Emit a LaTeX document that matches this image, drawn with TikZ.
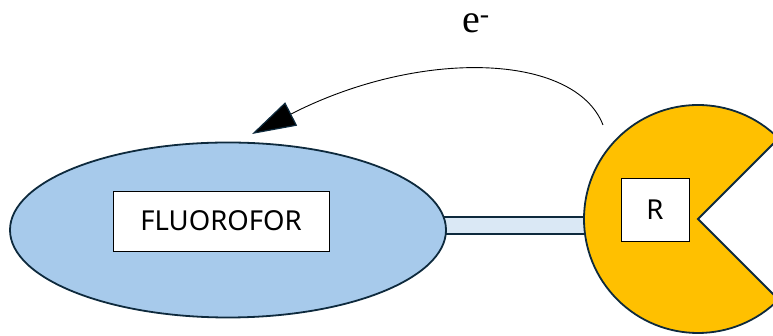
\documentclass[tikz,border=0pt]{standalone}
\usepackage{fontspec}
\usetikzlibrary{shapes.geometric,arrows.meta}
\newfontfamily\lblfont{Noto Sans}
\newfontfamily\elfont{Liberation Serif}
\definecolor{edge}{HTML}{0E2A3D}
\definecolor{fluofill}{HTML}{A7CAEB}
\definecolor{bridgefill}{HTML}{DAE8F5}
\definecolor{pacfill}{HTML}{FFC000}
\tikzset{
  outline/.style={draw=edge, line width=1.8pt},
  labelbox/.style={draw=black, fill=white, line width=0.9pt, inner sep=0pt, font=\lblfont\fontsize{27.5}{32}\selectfont},
}
\begin{document}
\begin{tikzpicture}[x=1pt,y=1pt]
\useasboundingbox (0,0) rectangle (773,336);
\clip (0,0) rectangle (773,336);
% bridge
\draw[outline, fill=bridgefill] (420,119) rectangle (600,102);
% fluorophore
\node[ellipse, outline, fill=fluofill, minimum width=436pt, minimum height=175pt, inner sep=0pt] (fluo) at (228,106) {};
\node[labelbox, minimum width=216pt, minimum height=60pt] (flabel) at (221,115) {FLUOROFOR};
% receptor (pac-man)
\coordinate (pac) at (698,117);
\draw[outline, fill=pacfill] (pac) -- ++(45:114) arc (45:315:114) -- cycle;
\node[labelbox, minimum width=68pt, minimum height=63pt] (rlabel) at (655,126.5) {R};
% electron transfer arrow
\coordinate (astart) at (603,211);
\coordinate (aend) at (252,202);
\draw[black, line width=0.9pt, -{Triangle[length=44pt,width=26pt,fill=black,color=edge,line width=1.2pt]}]
  (astart) .. controls (575,283) and (420,288) .. (aend);
\node[font=\elfont\fontsize{40}{44}\selectfont, inner sep=0pt] (elabel) at (476,313) {e\textsuperscript{-}};
\end{tikzpicture}
\end{document}
